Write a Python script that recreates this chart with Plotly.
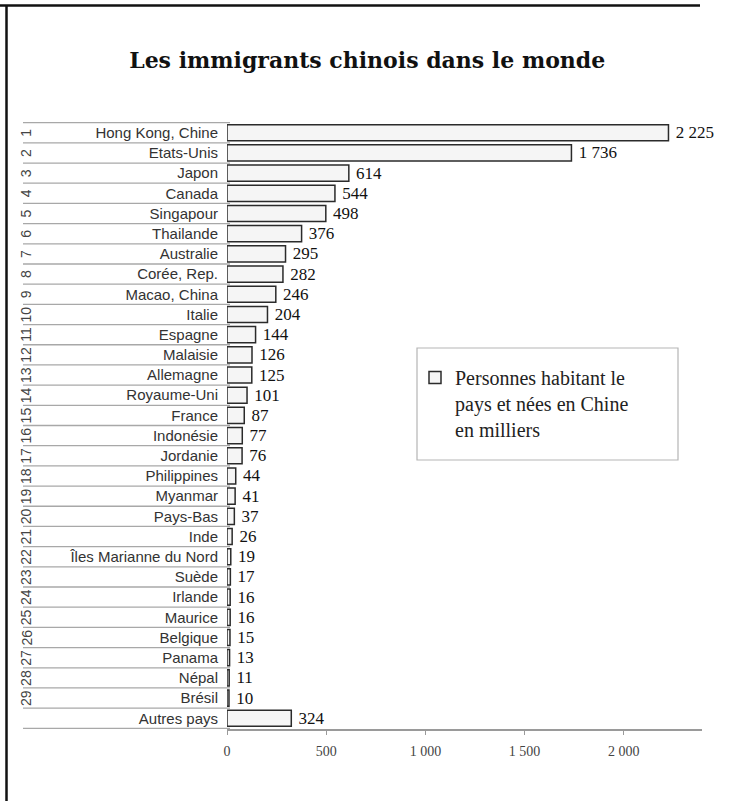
import plotly.graph_objects as go

# ---------------- data ----------------
countries = ["Hong Kong, Chine", "Etats-Unis", "Japon", "Canada", "Singapour",
             "Thailande", "Australie", "Corée, Rep.", "Macao, China", "Italie",
             "Espagne", "Malaisie", "Allemagne", "Royaume-Uni", "France",
             "Indonésie", "Jordanie", "Philippines", "Myanmar", "Pays-Bas",
             "Inde", "Îles Marianne du Nord", "Suède", "Irlande", "Maurice",
             "Belgique", "Panama", "Népal", "Brésil", "Autres pays"]
values = [2225, 1736, 614, 544, 498, 376, 295, 282, 246, 204,
          144, 126, 125, 101, 87, 77, 76, 44, 41, 37,
          26, 19, 17, 16, 16, 15, 13, 11, 10, 324]
ranks = [str(i) for i in range(1, 30)] + [""]
x_ticks = [0, 500, 1000, 1500, 2000]
legend_label = "Personnes habitant le<br>pays et nées en Chine<br>en milliers"
title_text = "Les immigrants chinois dans le monde"

# ---------------- geometry ----------------
W, H = 730, 801
L, R, T, B = 227, 28, 122, 72
PW, PH = W - L - R, H - T - B


def px(x):
    return (x - L) / PW


def py(y):
    return (H - B - y) / PH


fig = go.Figure()
fig.add_trace(go.Bar(
    x=values, y=countries, orientation="h",
    marker=dict(color="#f5f5f5", line=dict(color="#2b2b2b", width=1.5)),
    texttemplate=" %{x:,}", textposition="outside",
    textfont=dict(family="Liberation Serif", size=17, color="#111"),
    constraintext="none", cliponaxis=False,
    name=legend_label, showlegend=True, hoverinfo="skip",
))

shapes = []
# row separators in the label column
for i in range(len(countries) + 1):
    shapes.append(dict(type="line", xref="paper", yref="y",
                       x0=px(23), x1=px(230), y0=i - 0.5, y1=i - 0.5,
                       line=dict(color="#a8a8a8", width=1.3)))
# outer frame (top and left)
shapes.append(dict(type="line", xref="paper", yref="paper",
                   x0=px(0), x1=px(700), y0=py(5.5), y1=py(5.5),
                   line=dict(color="#111", width=2.5)))
shapes.append(dict(type="line", xref="paper", yref="paper",
                   x0=px(6.5), x1=px(6.5), y0=py(5), y1=py(H),
                   line=dict(color="#111", width=2.5)))
# legend frame
shapes.append(dict(type="rect", xref="paper", yref="paper",
                   x0=px(417), x1=px(678), y0=py(460), y1=py(348),
                   line=dict(color="#b5b5b5", width=1.2)))

annotations = []
for c, r in zip(countries, ranks):
    if r:
        annotations.append(dict(text=r, x=px(16), y=c, xref="paper", yref="y",
                                showarrow=False, textangle=-90,
                                font=dict(family="Liberation Sans", size=14, color="#444")))

fig.update_layout(
    width=W, height=H,
    margin=dict(l=L, r=R, t=T, b=B, autoexpand=False),
    paper_bgcolor="white", plot_bgcolor="white",
    separators=", ",
    bargap=0.2,
    title=dict(text=title_text, x=0.503, xanchor="center", y=1 - 60 / H, yanchor="middle",
               font=dict(family="DejaVu Serif", size=22, color="#111", weight="bold")),
    showlegend=True,
    legend=dict(x=px(415), y=py(358), xanchor="left", yanchor="top",
                bgcolor="rgba(0,0,0,0)", borderwidth=0, valign="top",
                font=dict(family="Liberation Serif", size=20, color="#222")),
    xaxis=dict(range=[0, 2394], tickvals=x_ticks, separatethousands=True,
               showgrid=False, zeroline=False, showline=True,
               linecolor="#9a9a9a", linewidth=1.5,
               ticks="outside", ticklen=4, tickcolor="#9a9a9a", tickwidth=1,
               ticklabelstandoff=4,
               tickfont=dict(family="Liberation Serif", size=14, color="#444")),
    yaxis=dict(autorange="reversed", showgrid=False, zeroline=False, showline=False,
               ticks="", ticklabelstandoff=8,
               tickfont=dict(family="Liberation Sans", size=15, color="#333")),
    shapes=shapes, annotations=annotations,
)

fig.write_html(
    "out.html", config={"displayModeBar": False},
    post_script=("document.documentElement.style.overflow='hidden';"
                 "document.body.style.overflow='hidden';"
                 "document.body.style.margin='0';document.body.style.padding='0';"))
